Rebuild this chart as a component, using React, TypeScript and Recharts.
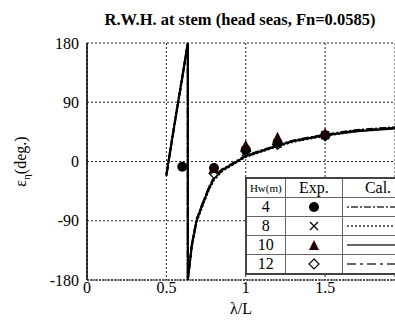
import { ComposedChart, Line, Scatter, XAxis, YAxis, CartesianGrid } from 'recharts';

// wave length ratio for calculated curves (phase wraps at ~0.635)
const lambdaCal = [0.5, 0.56, 0.6, 0.635, 0.635, 0.66, 0.69, 0.73, 0.77, 0.8, 0.85, 0.93, 1.0, 1.1, 1.2, 1.3, 1.5, 1.7, 1.94];
const calHw4 = [-22, 68, 126, 180, -180, -126, -88, -62, -38, -24, -12, -1, 9, 17, 25, 32, 41, 48, 52];
const calHw8 = [-18, 72, 130, 180, -180, -130, -92, -66, -42, -28, -15, -3, 7, 15, 23, 30, 39, 46, 51];
const calHw10 = [-20, 70, 128, 180, -180, -128, -90, -64, -40, -26, -13, -2, 8, 16, 24, 31, 40, 46, 50];
const calHw12 = [-21, 69, 127, 180, -180, -127, -89, -63, -39, -25, -14, -2, 8, 16, 24, 31, 40, 47, 51];

const expLambda = [0.6, 0.8, 1.0, 1.2, 1.5];
const expHw4 = [-8, -10, 18, 28, 40];
const expHw8 = [null, -14, 14, 27, 40];
const expHw10 = [null, -11, 24, 36, 42];
const expHw12 = [null, -18, 16, 26, 39];

const xTicks = [0, 0.5, 1, 1.5];
const yTicks = [-180, -90, 0, 90, 180];
const hwLabels = ['4', '8', '10', '12'];

const FONT = '"Liberation Serif", "Times New Roman", serif';

const toPts = (xs: number[], ys: (number | null)[]) =>
  xs.map((x, i) => ({ x, y: ys[i] })).filter((p) => p.y !== null);

const calDash = ['2 2 7 2', '2 2', undefined, '9 4 3 4'];

const Circle = (p: any) => <circle cx={p.cx} cy={p.cy} r={5} fill="#000" />;
const Cross = (p: any) => (
  <g stroke="#000" strokeWidth={1.3}>
    <line x1={p.cx - 4} y1={p.cy - 4} x2={p.cx + 4} y2={p.cy + 4} />
    <line x1={p.cx - 4} y1={p.cy + 4} x2={p.cx + 4} y2={p.cy - 4} />
  </g>
);
const Tri = (p: any) => (
  <polygon points={`${p.cx},${p.cy - 6} ${p.cx - 5},${p.cy + 4} ${p.cx + 5},${p.cy + 4}`} fill="#200" />
);
const Diamond = (p: any) => (
  <polygon points={`${p.cx},${p.cy - 5} ${p.cx + 5},${p.cy} ${p.cx},${p.cy + 5} ${p.cx - 5},${p.cy}`} fill="#fff" stroke="#000" strokeWidth={1.2} />
);

function LegendTable() {
  const cell: any = { border: '1px solid #666', padding: 0, textAlign: 'center', height: 18 };
  return (
    <table style={{ borderCollapse: 'collapse', background: '#fff', fontFamily: FONT, fontSize: 16, border: '2px solid #444', width: 170 }}>
      <tbody>
        <tr>
          <td style={{ ...cell, width: 38, fontSize: 11 }}>Hw(m)</td>
          <td style={{ ...cell, width: 58 }}>Exp.</td>
          <td style={cell}>Cal.</td>
        </tr>
        {hwLabels.map((h, i) => (
          <tr key={h}>
            <td style={cell}>{h}</td>
            <td style={cell}>
              <svg width={16} height={16} style={{ display: 'block', margin: '0 auto' }}>
                {i === 0 && <Circle cx={8} cy={8} />}
                {i === 1 && <Cross cx={8} cy={8} />}
                {i === 2 && <Tri cx={8} cy={9} />}
                {i === 3 && <Diamond cx={8} cy={8} />}
              </svg>
            </td>
            <td style={cell}>
              <svg width={70} height={10} style={{ display: 'block' }}>
                <line x1={4} y1={5} x2={70} y2={5} stroke="#333" strokeWidth={1.3} strokeDasharray={calDash[i]} />
              </svg>
            </td>
          </tr>
        ))}
      </tbody>
    </table>
  );
}

export default function App() {
  const series = [calHw4, calHw8, calHw10, calHw12];
  return (
    <div style={{ position: 'absolute', left: 0, top: 0, width: 395, height: 320, overflow: 'hidden', background: '#fff', fontFamily: FONT }}>
      <div style={{ position: 'absolute', left: 80, width: 320, top: 10, textAlign: 'center', fontFamily: FONT, fontWeight: 'bold', fontSize: 16.5, whiteSpace: 'nowrap' }}>
        R.W.H. at stem (head seas, Fn=0.0585)
      </div>
      <ComposedChart width={395} height={320} margin={{ top: 43, right: 0, left: 0, bottom: 0 }} style={{ fontFamily: FONT }}>
        <CartesianGrid stroke="#222" strokeDasharray="2 2" />
        <XAxis
          type="number"
          dataKey="x"
          domain={[0, 1.94]}
          ticks={xTicks}
          allowDataOverflow
          height={40}
          tickLine={false}
          tickSize={0}
          axisLine={{ stroke: '#000', strokeDasharray: '2 1' }}
          tick={{ fill: '#000', fontFamily: FONT, fontSize: 16 }}
          label={{ value: 'λ/L', position: 'insideBottom', offset: 6, fill: '#000', fontFamily: FONT, fontSize: 16 }}
        />
        <YAxis
          type="number"
          domain={[-180, 180]}
          ticks={yTicks}
          width={87}
          tickLine={false}
          tickSize={6}
          axisLine={{ stroke: '#000', strokeWidth: 1.5 }}
          tick={{ fill: '#000', fontFamily: FONT, fontSize: 16 }}
          label={(props: any) => {
            const vb = props.viewBox;
            const cx = 26;
            const cy = vb.y + vb.height / 2;
            return (
              <text x={cx} y={cy} transform={`rotate(-90 ${cx} ${cy})`} textAnchor="middle" fontFamily={FONT} fontSize={16} fill="#000">
                ε<tspan fontSize={11} dy={4}>η</tspan><tspan dy={-4}>(deg.)</tspan>
              </text>
            );
          }}
        />
        {series.map((s, i) => (
          <Line
            key={i}
            data={toPts(lambdaCal, s)}
            dataKey="y"
            type="linear"
            stroke="#000"
            strokeWidth={2}
            strokeDasharray={calDash[i]}
            dot={false}
            isAnimationActive={false}
          />
        ))}
        <Scatter data={toPts(expLambda, expHw12)} dataKey="y" shape={Diamond} isAnimationActive={false} />
        <Scatter data={toPts(expLambda, expHw8)} dataKey="y" shape={Cross} isAnimationActive={false} />
        <Scatter data={toPts(expLambda, expHw4)} dataKey="y" shape={Circle} isAnimationActive={false} />
        <Scatter data={toPts(expLambda, expHw10)} dataKey="y" shape={Tri} isAnimationActive={false} />
      </ComposedChart>
      <div style={{ position: 'absolute', left: 245, top: 177 }}>
        <LegendTable />
      </div>
    </div>
  );
}
